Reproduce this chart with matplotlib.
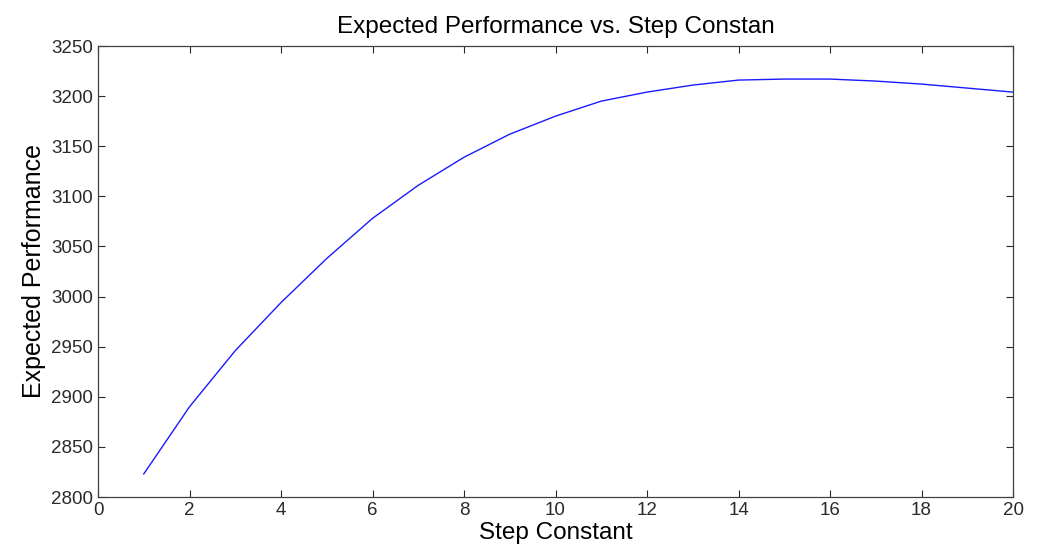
import matplotlib
matplotlib.use('Agg')
import matplotlib.pyplot as plt

# -----------------------------
# Data
# -----------------------------
step_constant = [1, 2, 3, 4, 5, 6, 7, 8, 9, 10,
                 11, 12, 13, 14, 15, 16, 17, 18, 19, 20]
expected_perf = [2823, 2890, 2946, 2994, 3038, 3078, 3111, 3139, 3162, 3180,
                 3195, 3204, 3211, 3216, 3217, 3217, 3215, 3212, 3208, 3204]

x_ticks = list(range(0, 21, 2))
y_ticks = list(range(2800, 3251, 50))

plt.rcParams['font.family'] = ['Liberation Sans', 'DejaVu Sans']

fig = plt.figure(figsize=(10.39, 5.56), dpi=100)
ax = fig.add_axes([98 / 1039, 1 - 497 / 556, (1013 - 98) / 1039, (497 - 46) / 556])

ax.plot(step_constant, expected_perf, color='#1a1aff', linewidth=1.0)

ax.set_xlim(0, 20)
ax.set_ylim(2800, 3250)
ax.set_xticks(x_ticks)
ax.set_yticks(y_ticks)

ax.tick_params(direction='in', length=5, width=0.8, top=True, right=True,
               labelsize=13.5, colors='#2a2a2a', pad=3.5)
for side in ax.spines.values():
    side.set_color('#404040')
    side.set_linewidth(0.9)

ax.set_title('Expected Performance vs. Step Constan', fontsize=17.5, pad=9)
ax.set_xlabel('Step Constant', fontsize=17.5, labelpad=2)
ax.set_ylabel('Expected Performance', fontsize=18, labelpad=4)

fig.savefig('out.png', dpi=100)
